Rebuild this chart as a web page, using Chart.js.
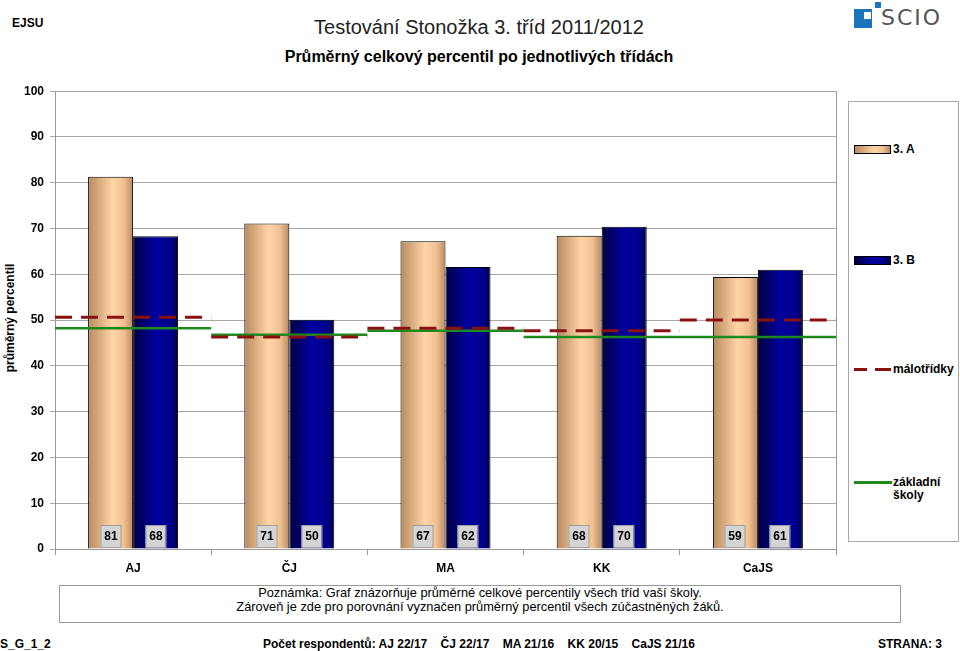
<!DOCTYPE html>
<html>
<head>
<meta charset="utf-8">
<script src="https://cdn.jsdelivr.net/npm/chart.js@4/dist/chart.umd.min.js"></script>
<style>
  html,body{margin:0;padding:0;background:#fff;}
  body{width:960px;height:651px;position:relative;overflow:hidden;font-family:"Liberation Sans",Arial,sans-serif;color:#000;}
  .abs{position:absolute;white-space:pre;}
  .b{font-weight:bold;}
  #chartWrap{position:absolute;left:0;top:78px;width:840px;height:500px;}
  #legend{position:absolute;left:848px;top:101px;width:109px;height:439px;border:1px solid #a8a8a8;}
  .sw{position:absolute;left:5px;width:35px;height:7px;border:1px solid #000;}
  .lt{position:absolute;left:44px;font-size:12px;font-weight:bold;line-height:13px;}
  #note{position:absolute;left:59px;top:585px;width:840px;height:36px;border:1px solid #999;text-align:center;font-size:12.8px;line-height:14px;}
</style>
</head>
<body>
<div class="abs b" style="left:12px;top:16px;font-size:12px;">EJSU</div>
<div class="abs" style="left:0;width:958px;top:16px;font-size:20px;text-align:center;color:#222;">Testování Stonožka 3. tříd 2011/2012</div>
<div class="abs b" style="left:0;width:958px;top:48px;font-size:16px;text-align:center;">Průměrný celkový percentil po jednotlivých třídách</div>

<div style="position:absolute;left:854px;top:9px;width:18px;height:19px;background:#1b75bb;"></div>
<div style="position:absolute;left:864px;top:12px;width:7px;height:7px;background:#fff;"></div>
<div style="position:absolute;left:875px;top:2px;width:6px;height:6px;background:#1b75bb;"></div>
<div class="abs" style="left:881px;top:5px;font-size:22px;letter-spacing:2px;color:#555;font-family:'DejaVu Sans',sans-serif;">SCIO</div>

<div class="abs b" style="left:-50px;top:311px;width:120px;height:14px;line-height:14px;font-size:12px;text-align:center;transform:rotate(-90deg);">průměrný percentil</div>

<div id="chartWrap"><canvas id="c" width="840" height="500"></canvas></div>

<div id="legend">
  <div class="sw" id="swA" style="top:43px;"></div><div class="lt" style="top:41px;">3. A</div>
  <div class="sw" id="swB" style="top:154px;"></div><div class="lt" style="top:152px;">3. B</div>
  <div style="position:absolute;left:5px;top:266px;width:13px;height:3px;background:#8b1010;"></div>
  <div style="position:absolute;left:26px;top:266px;width:16px;height:3px;background:#8b1010;"></div>
  <div class="lt" style="top:261px;">málotřídky</div>
  <div style="position:absolute;left:5px;top:379px;width:38px;height:3px;background:#1e8a1e;"></div>
  <div class="lt" style="top:374px;">základní<br>školy</div>
</div>

<div id="note">Poznámka: Graf znázorňuje průměrné celkové percentily všech tříd vaší školy.<br>Zároveň je zde pro porovnání vyznačen průměrný percentil všech zúčastněných žáků.</div>

<div class="abs b" style="left:0;top:637px;font-size:12px;">S_G_1_2</div>
<div class="abs b" style="left:263px;top:637px;font-size:12px;">Počet respondentů: AJ 22/17    ČJ 22/17    MA 21/16    KK 20/15    CaJS 21/16</div>
<div class="abs b" style="left:878px;top:637px;font-size:12px;">STRANA: 3</div>

<script>
const categories = ['AJ', 'ČJ', 'MA', 'KK', 'CaJS'];
const seriesNames = ['3. A', '3. B', 'málotřídky', 'základní školy'];
const class3A = [81.3, 71.1, 67.2, 68.4, 59.4];
const class3B = [68.3, 50.1, 61.6, 70.4, 61.0];
const malotridky = [50.6, 46.3, 48.2, 47.7, 50.0];
const zakladni = [48.2, 46.8, 47.7, 46.3, 46.3];
const yTicks = [0, 10, 20, 30, 40, 50, 60, 70, 80, 90, 100];

const FONT = '"Liberation Sans", Arial, sans-serif';
const stopsA = [[0, '#b98a60'], [0.55, '#ffd5a6'], [0.8, '#f0c091'], [1, '#b88a62']];
const stopsB = [[0, '#000040'], [0.5, '#0000a0'], [0.85, '#00008a'], [1, '#000040']];

document.getElementById('swA').style.background = 'linear-gradient(to right,' + stopsA.map(s => s[1] + ' ' + (s[0]*100) + '%').join(',') + ')';
document.getElementById('swB').style.background = 'linear-gradient(to right,' + stopsB.map(s => s[1] + ' ' + (s[0]*100) + '%').join(',') + ')';

function gradFill(stops, fallback) {
  return function (ctx) {
    const el = ctx.element;
    if (!el || !isFinite(el.x) || !el.width) return fallback;
    const c = ctx.chart.ctx;
    const g = c.createLinearGradient(el.x - el.width / 2, 0, el.x + el.width / 2, 0);
    stops.forEach(s => g.addColorStop(s[0], s[1]));
    return g;
  };
}

function segments(values) {
  const out = [];
  values.forEach((v, i) => {
    out.push({ x: i, y: v }, { x: i + 1, y: v }, { x: i + 1, y: null });
  });
  return out;
}

const labelPlugin = {
  id: 'barLabels',
  afterDatasetsDraw(chart) {
    const c = chart.ctx;
    const bottom = chart.chartArea.bottom;
    chart.data.datasets.forEach((ds, di) => {
      if (ds.type !== 'bar') return;
      const meta = chart.getDatasetMeta(di);
      meta.data.forEach((el, i) => {
        const x = Math.round(el.x) - 0.5;
        c.save();
        c.fillStyle = '#d4d4d4';
        c.strokeStyle = '#a0a0a0';
        c.lineWidth = 1;
        c.fillRect(x - 10, bottom - 24, 20, 22);
        c.strokeRect(x - 10 + 0.5, bottom - 24 + 0.5, 20, 22);
        c.fillStyle = '#000';
        c.font = 'bold 12px ' + FONT;
        c.textAlign = 'center';
        c.textBaseline = 'middle';
        c.fillText(String(Math.round(ds.data[i])), x + 0.5, bottom - 12);
        c.restore();
      });
    });
  }
};

const borderPlugin = {
  id: 'plotBorder',
  afterDraw(chart) {
    const a = chart.chartArea;
    const c = chart.ctx;
    c.save();
    c.strokeStyle = '#999';
    c.lineWidth = 1;
    c.beginPath();
    c.moveTo(Math.round(a.right) + 0.5, a.top);
    c.lineTo(Math.round(a.right) + 0.5, a.bottom);
    c.stroke();
    c.restore();
  }
};

// Chart.js 4.5 splits each category between all index axes (x and x2 here),
// so the category share is doubled to keep the bars at ~58% of the category.
const CAT_PCT = 1.1525;

const chart = new Chart(document.getElementById('c'), {
  data: {
    labels: categories,
    datasets: [
      {
        type: 'line', label: seriesNames[2], data: segments(malotridky), xAxisID: 'x2', order: 0,
        borderColor: '#8b1010', borderWidth: 3, borderDash: [17, 9], pointRadius: 0, spanGaps: false, fill: false
      },
      {
        type: 'line', label: seriesNames[3], data: segments(zakladni), xAxisID: 'x2', order: 0,
        borderColor: '#1e8a1e', borderWidth: 2.5, pointRadius: 0, spanGaps: false, fill: false
      },
      {
        type: 'bar', label: seriesNames[0], data: class3A, xAxisID: 'x', order: 1,
        backgroundColor: gradFill(stopsA, '#e8b888'), borderColor: '#000', borderWidth: 1,
        categoryPercentage: CAT_PCT, barPercentage: 1
      },
      {
        type: 'bar', label: seriesNames[1], data: class3B, xAxisID: 'x', order: 1,
        backgroundColor: gradFill(stopsB, '#000080'), borderColor: '#000', borderWidth: 1,
        categoryPercentage: CAT_PCT, barPercentage: 1
      }
    ]
  },
  options: {
    responsive: false,
    animation: false,
    layout: { padding: { top: 10, right: 4, left: 0, bottom: 0 } },
    plugins: { legend: { display: false }, tooltip: { enabled: false }, title: { display: false } },
    scales: {
      x: {
        type: 'category',
        offset: true,
        grid: { offset: true, drawOnChartArea: false, color: '#999', tickLength: 6 },
        border: { color: '#999' },
        ticks: { color: '#000', font: { family: FONT, size: 12, weight: 'bold' }, padding: 6 },
        afterFit(s) { s.height = 29; }
      },
      x2: { type: 'linear', min: 0, max: 5, offset: false, display: false },
      y: {
        min: 0, max: 100,
        afterBuildTicks(s) { s.ticks = yTicks.map(v => ({ value: v })); },
        grid: { color: '#a8a8a8', tickLength: 5 },
        border: { color: '#999' },
        ticks: { color: '#000', font: { family: FONT, size: 12, weight: 'bold' }, padding: 6 },
        afterFit(s) { s.width = 55; }
      }
    }
  },
  plugins: [labelPlugin, borderPlugin]
});
chart.update('none');
</script>
</body>
</html>
